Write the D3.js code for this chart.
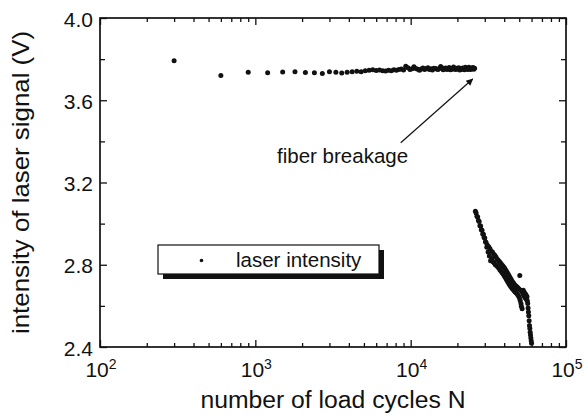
<!DOCTYPE html>
<html><head><meta charset="utf-8">
<script src="https://cdn.jsdelivr.net/npm/d3@7"></script>
<style>body{margin:0;background:#fff}svg{display:block}text{font-family:"Liberation Sans",Arial,sans-serif;fill:#111}</style>
</head><body><svg id="c" width="584" height="417"></svg>
<script>
// ---- data ----
const xTickValues = [100, 1000, 10000, 100000];
const xTickExponents = ["2", "3", "4", "5"];
const yTickValues = [2.4, 2.8, 3.2, 3.6, 4.0];
const yTickLabels = ["2.4", "2.8", "3.2", "3.6", "4.0"];
const yMinorValues = [2.6, 3.0, 3.4, 3.8];
const xTitle = "number of load cycles N";
const yTitle = "intensity of laser signal (V)";
const legendLabel = "laser intensity";
const annotationText = "fiber breakage";
const annotationTextAt = [1380, 3.295];
const arrowFrom = [8630, 3.393];
const arrowTo = [25080, 3.703];

const beforeN = [300,600,900,1200,1500,1800,2100,2400,2700,3000,3300,3600,3900,4200,4500,4800,5100,5400,5700,6000,
  6300,6600,6900,7200,7500,7800,8100,8400,8700,9000,9300,9600,9900,10200,10500,10800,11100,11400,11700,12000,
  12300,12600,12900,13200,13500,13800,14100,14400,14700,15000,15300,15600,15900,16200,16500,16800,17100,17400,17700,18000,
  18300,18600,18900,19200,19500,19800,20100,20400,20700,21000,21300,21600,21900,22200,22500,22800,23100,23400,23700,24000,
  24300,24600,24900,25200,25500,25800];
const beforeV = [3.792,3.720,3.736,3.734,3.737,3.739,3.735,3.734,3.730,3.738,3.736,3.733,3.736,3.739,3.741,3.738,3.744,3.746,3.748,3.745,
  3.747,3.744,3.742,3.746,3.743,3.748,3.746,3.749,3.752,3.747,3.765,3.758,3.750,3.753,3.763,3.755,3.751,3.746,3.752,3.757,
  3.749,3.754,3.758,3.750,3.753,3.747,3.756,3.754,3.752,3.749,3.755,3.764,3.758,3.748,3.754,3.757,3.750,3.753,3.759,3.748,
  3.755,3.751,3.762,3.753,3.749,3.756,3.752,3.758,3.747,3.754,3.750,3.757,3.753,3.748,3.760,3.752,3.755,3.749,3.761,3.754,
  3.750,3.757,3.753,3.759,3.751,3.756];

const afterN = [26100,26400,26700,27000,27300,27600,27900,28200,28500,28800,29100,29400,29700,30000,30300,30600,30900,31200,31500,31800,
  32100,32400,32700,33000,33300,33600,33900,34200,34500,34800,35100,35400,35700,36000,36300,36600,36900,37200,37500,37800,
  38100,38400,38700,39000,39300,39600,39900,40200,40500,40800,41100,41400,41700,42000,42300,42600,42900,43200,43500,43800,
  44100,44400,44700,45000,45300,45600,45900,46200,46500,46800,47100,47400,47700,48000,48300,48600,48900,49200,49500,49800,
  50100,50400,50700,51000,51300,51600,51900,52200,52500,52800,53100,53400,53700,54000,54300,54600,54900,55200,55500,55800,
  56100,56400,56700,57000,57300,57600,57900,58200,58500,58800,59100,59400,59700,60000];
const afterV = [3.060,3.052,3.036,3.032,3.015,3.010,2.990,2.988,2.970,2.968,2.950,2.948,2.932,2.930,2.912,2.908,2.885,2.895,2.862,2.888,
  2.842,2.878,2.820,2.866,2.830,2.862,2.815,2.852,2.808,2.846,2.800,2.838,2.796,2.828,2.790,2.822,2.784,2.816,2.776,2.810,
  2.770,2.802,2.762,2.796,2.756,2.790,2.748,2.784,2.740,2.776,2.732,2.768,2.724,2.760,2.716,2.752,2.708,2.744,2.700,2.736,
  2.694,2.728,2.688,2.720,2.682,2.714,2.678,2.708,2.672,2.702,2.668,2.698,2.664,2.694,2.660,2.690,2.654,2.686,2.648,2.682,
  2.640,2.748,2.626,2.676,2.612,2.598,2.672,2.586,2.668,2.662,2.676,2.652,2.668,2.646,2.662,2.640,2.656,2.636,2.650,2.630,
  2.644,2.624,2.612,2.590,2.570,2.552,2.528,2.505,2.490,2.472,2.458,2.444,2.430,2.418];

// ---- chart ----
const svg = d3.select("#c");
const L = 100, R = 566, T = 18, B = 347;
const x = d3.scaleLog().domain([100, 100000]).range([L, R]);
const y = d3.scaleLinear().domain([2.4, 4.0]).range([B, T]);

const xMinor = [];
[100, 1000, 10000].forEach(d => { for (let k = 2; k <= 9; k++) xMinor.push(d * k); });

function styleAxis(g) {
  g.select(".domain").remove();
  g.selectAll("line").attr("stroke", "#111").attr("stroke-width", 1.3);
  g.selectAll("text").remove();
}
svg.append("g").attr("transform", `translate(0,${B})`)
  .call(d3.axisBottom(x).tickValues(xTickValues).tickSize(-7).tickFormat("")).call(styleAxis);
svg.append("g").attr("transform", `translate(0,${B})`)
  .call(d3.axisBottom(x).tickValues(xMinor).tickSize(-4).tickFormat("")).call(styleAxis);
svg.append("g").attr("transform", `translate(0,${T})`)
  .call(d3.axisTop(x).tickValues(xTickValues).tickSize(-7).tickFormat("")).call(styleAxis);
svg.append("g").attr("transform", `translate(0,${T})`)
  .call(d3.axisTop(x).tickValues(xMinor).tickSize(-4).tickFormat("")).call(styleAxis);
svg.append("g").attr("transform", `translate(${L},0)`)
  .call(d3.axisLeft(y).tickValues(yTickValues).tickSize(-7).tickFormat("")).call(styleAxis);
svg.append("g").attr("transform", `translate(${L},0)`)
  .call(d3.axisLeft(y).tickValues(yMinorValues).tickSize(-5).tickFormat("")).call(styleAxis);
svg.append("g").attr("transform", `translate(${R},0)`)
  .call(d3.axisRight(y).tickValues(yTickValues).tickSize(-7).tickFormat("")).call(styleAxis);
svg.append("g").attr("transform", `translate(${R},0)`)
  .call(d3.axisRight(y).tickValues(yMinorValues).tickSize(-5).tickFormat("")).call(styleAxis);

svg.append("rect").attr("x", L).attr("y", T).attr("width", R - L).attr("height", B - T)
  .attr("fill", "none").attr("stroke", "#111").attr("stroke-width", 1.7);

xTickValues.forEach((v, i) => {
  const t = svg.append("text").attr("x", x(v) + 1).attr("y", B + 30)
    .attr("text-anchor", "middle").attr("font-size", 21);
  t.append("tspan").text("10");
  t.append("tspan").attr("font-size", 14).attr("dy", -8).text(xTickExponents[i]);
});
yTickValues.forEach((v, i) => {
  svg.append("text").attr("x", L - 7).attr("y", y(v) + 8.5)
    .attr("text-anchor", "end").attr("font-size", 21).text(yTickLabels[i]);
});

svg.append("text").attr("x", (L + R) / 2).attr("y", 408).attr("text-anchor", "middle")
  .attr("font-size", 23).attr("textLength", 265).attr("lengthAdjust", "spacingAndGlyphs").text(xTitle);
svg.append("text").attr("transform", `translate(29,${(T + B) / 2}) rotate(-90)`).attr("text-anchor", "middle")
  .attr("font-size", 24).attr("textLength", 303).attr("lengthAdjust", "spacingAndGlyphs").text(yTitle);

const pts = beforeN.map((n, i) => [n, beforeV[i]]).concat(afterN.map((n, i) => [n, afterV[i]]));
svg.append("g").selectAll("circle").data(pts).join("circle")
  .attr("cx", d => x(d[0])).attr("cy", d => y(d[1])).attr("r", 2.5).attr("fill", "#111");

const lg = svg.append("g");
lg.append("rect").attr("x", 163).attr("y", 250).attr("width", 221).attr("height", 29).attr("fill", "#111");
lg.append("rect").attr("x", 158).attr("y", 245).attr("width", 221).attr("height", 29)
  .attr("fill", "#fff").attr("stroke", "#111").attr("stroke-width", 1.2);
lg.append("circle").attr("cx", 201.5).attr("cy", 260.5).attr("r", 1.8).attr("fill", "#111");
lg.append("text").attr("x", 236).attr("y", 267).attr("font-size", 20.5).text(legendLabel);

svg.append("defs").append("marker").attr("id", "ah").attr("viewBox", "0 0 10 10")
  .attr("refX", 9).attr("refY", 5).attr("markerWidth", 9).attr("markerHeight", 7)
  .attr("markerUnits", "userSpaceOnUse").attr("orient", "auto")
  .append("path").attr("d", "M0,0 L10,5 L0,10 Z").attr("fill", "#111");
svg.append("line").attr("x1", x(arrowFrom[0])).attr("y1", y(arrowFrom[1]))
  .attr("x2", x(arrowTo[0])).attr("y2", y(arrowTo[1]))
  .attr("stroke", "#111").attr("stroke-width", 1.2).attr("marker-end", "url(#ah)");
svg.append("text").attr("x", x(annotationTextAt[0])).attr("y", y(annotationTextAt[1]))
  .attr("font-size", 20.5).text(annotationText);
</script></body></html>
